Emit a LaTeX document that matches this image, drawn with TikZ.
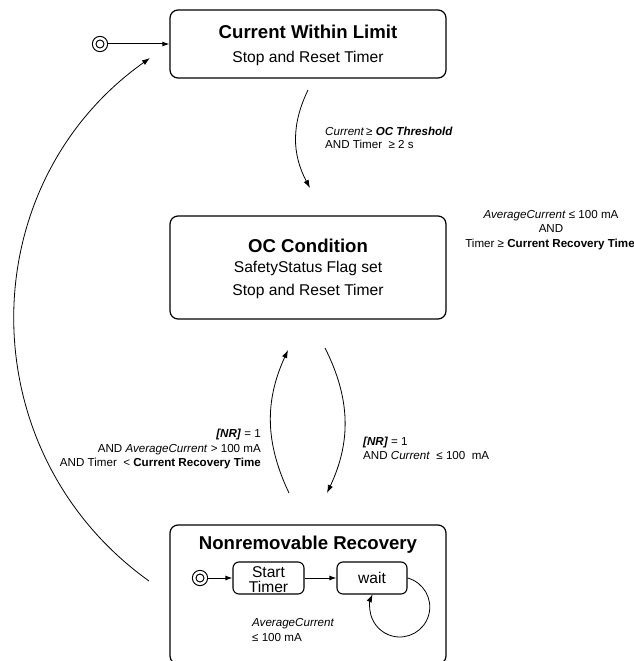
\documentclass[tikz,border=0pt]{standalone}
\usepackage{fontspec}
\setmainfont{Liberation Sans}
\usetikzlibrary{arrows.meta}
\begin{document}
\begin{tikzpicture}[x=1pt,y=1pt,
  state/.style={draw, line width=1.2pt, rounded corners=8pt, inner sep=0pt},
  substate/.style={draw, line width=1.1pt, rounded corners=6pt, inner sep=0pt},
  ttl/.style={font=\fontsize{18.6}{22}\selectfont\bfseries, anchor=base, inner sep=0pt},
  body/.style={font=\fontsize{15.6}{18}\selectfont, anchor=base, inner sep=0pt},
  lbl/.style={font=\fontsize{11.6}{13}\selectfont, inner sep=0pt},
  trans/.style={line width=0.8pt, -{Latex[length=8pt,width=5.5pt]}},
  initarrow/.style={line width=1pt, -{Latex[length=7pt,width=5pt]}},
  initst/.style={circle, draw, double, double distance=2.5pt, line width=1.1pt, minimum size=11.5pt, inner sep=0pt, outer sep=2.5pt},
]
\useasboundingbox (0,0) rectangle (634,-661);

% State 1
\node[state, minimum width=276pt, minimum height=68pt] (cwl) at (308,-44) {};
\node[ttl] (cwlT) at (308,-38.5) {Current Within Limit};
\node[body] (cwlB) at (308,-63) {Stop and Reset Timer};

% State 2
\node[state, minimum width=276pt, minimum height=103pt] (occ) at (308,-267.5) {};
\node[ttl] (occT) at (308,-252) {OC Condition};
\node[body] (occB1) at (308,-272.5) {SafetyStatus Flag set};
\node[body] (occB2) at (308,-295) {Stop and Reset Timer};

% State 3
\node[state, minimum width=276pt, minimum height=139pt] (nrr) at (308,-594.5) {};
\node[ttl] (nrrT) at (308,-549) {Nonremovable Recovery};

% Inner states
\node[substate, minimum width=71pt, minimum height=32pt] (st) at (268.5,-578) {};
\node[body] (stA) at (268.5,-577) {Start};
\node[body] (stB) at (268.5,-592) {Timer};
\node[substate, minimum width=70pt, minimum height=32pt] (wt) at (372,-578) {};
\node[body] (wtT) at (372,-583) {wait};

% Initial states
\node[initst] (i1) at (100,-44) {};
\node[initst] (i2) at (200,-578) {};

\draw[initarrow] (i1) -- (cwl);
\draw[initarrow] (i2) -- (st);
\draw[initarrow] (st) -- (wt);
\draw[trans] (wt.east) arc[start angle=75, end angle=-205, radius=30];

% Transitions
\coordinate (a1s) at (308,-90);
\coordinate (a1e) at (310,-188);
\draw[trans] (a1s) to[bend right=27] (a1e);

\coordinate (a2s) at (289,-493);
\coordinate (a2e) at (288,-350);
\draw[trans] (a2s) to[bend left=25] (a2e);

\coordinate (a3s) at (325,-348);
\coordinate (a3e) at (327,-493);
\draw[trans] (a3s) to[bend left=26] (a3e);

\coordinate (a4s) at (149,-581);
\coordinate (a4e) at (150,-58);
\draw[trans] (a4s) to[bend left=54.5, looseness=1.08] (a4e);

% Labels
\node[lbl, anchor=base west] (l1a) at (325,-135) {\textit{Current}\,≥ \textbf{\textit{OC Threshold}}};
\node[lbl, anchor=base west] (l1b) at (325,-148) {AND Timer\ \ ≥ 2 s};

\node[lbl, anchor=base] (r1) at (551,-218) {\textit{AverageCurrent} ≤ 100 mA};
\node[lbl, anchor=base] (r2) at (551,-232) {AND};
\node[lbl, anchor=base] (r3) at (550,-247) {Timer ≥ \textbf{Current Recovery Time}};

\node[lbl, anchor=base east] (u1) at (261,-437.5) {\textbf{\textit{[NR]}} = 1};
\node[lbl, anchor=base east] (u2) at (261,-452) {AND \textit{AverageCurrent} > 100 mA};
\node[lbl, anchor=base east] (u3) at (261,-466) {AND Timer\ \ < \textbf{Current Recovery Time}};

\node[lbl, anchor=base west] (d1) at (363,-445) {\textbf{\textit{[NR]}} = 1};
\node[lbl, anchor=base west] (d2) at (363,-459) {AND \textit{Current}\ \ ≤ 100\ \ mA};

\node[lbl, anchor=base west] (w1) at (252,-626) {\textit{AverageCurrent}};
\node[lbl, anchor=base west] (w2) at (252,-641) {≤ 100 mA};
\end{tikzpicture}
\end{document}
